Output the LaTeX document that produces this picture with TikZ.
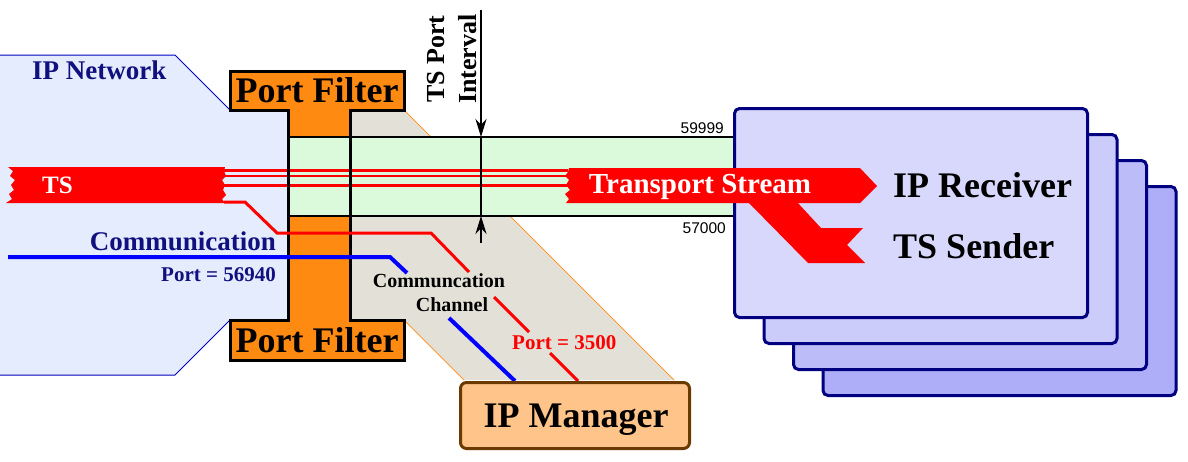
\documentclass[tikz,border=0pt]{standalone}
\usepackage{fontspec}
\setmainfont{Liberation Serif}
\newfontfamily\arialfont{Liberation Sans}
\usetikzlibrary{arrows.meta}
\definecolor{netfill}{HTML}{E5ECFD}
\definecolor{netline}{HTML}{0000C0}
\definecolor{navytxt}{HTML}{10107F}
\definecolor{pforange}{HTML}{FF8A12}
\definecolor{bandgreen}{HTML}{DBF9DB}
\definecolor{chgray}{HTML}{E3E1D7}
\definecolor{choutline}{HTML}{FF9A30}
\definecolor{mgrfill}{HTML}{FFC48A}
\definecolor{mgrline}{HTML}{6B3A00}
\definecolor{rxline}{HTML}{000080}
\definecolor{rxa}{HTML}{D8D8FC}
\definecolor{rxb}{HTML}{CCCCFA}
\definecolor{rxc}{HTML}{BCBCF8}
\definecolor{rxd}{HTML}{AEAEF8}
\definecolor{tsred}{HTML}{FF0000}
\definecolor{commblue}{HTML}{0000FF}
\tikzset{
  rxbox/.style={draw=rxline, line width=3pt, rounded corners=5pt, minimum width=353pt, minimum height=209pt, inner sep=0pt},
  bigtxt/.style={font=\bfseries\fontsize{36pt}{40pt}\selectfont, inner sep=0pt},
  midtxt/.style={font=\bfseries\fontsize{26pt}{30pt}\selectfont, inner sep=0pt},
  nettxtstyle/.style={font=\bfseries\fontsize{27pt}{30pt}\selectfont, inner sep=0pt, text=navytxt},
  smalltxt/.style={font=\bfseries\fontsize{21pt}{24pt}\selectfont, inner sep=0pt},
  chantxt/.style={font=\bfseries\fontsize{20pt}{22pt}\selectfont, inner sep=0pt},
  numtxt/.style={font=\arialfont\fontsize{15.5pt}{18pt}\selectfont, inner sep=0pt},
  redline/.style={draw=tsred, line width=3pt},
  blueline/.style={draw=commblue, line width=4pt},
  intervalarrow/.style={line width=2pt, -{Stealth[length=18pt,width=11pt]}},
  pfshape/.style={line width=3pt, line join=miter}
}
\begin{document}
\begin{tikzpicture}[x=1pt,y=-1pt]
\useasboundingbox (0,0) rectangle (1188,461);
% communication channel (gray band)
\fill[chgray] (350,110) -- (404,110) -- (674,380) -- (464,380) -- (404,320) -- (350,320) -- cycle;
\draw[choutline, line width=1pt] (404,110) -- (674,380);
\draw[choutline, line width=1pt] (404,320) -- (464,380);
% IP network area
\fill[netfill] (0,55) -- (175,55) -- (230,110) -- (290,110) -- (290,320) -- (230,320) -- (175,375) -- (0,375) -- cycle;
\draw[netline, line width=1pt] (0,55) -- (175,55) -- (230,110);
\draw[netline, line width=1pt] (0,375) -- (175,375) -- (230,320);
% port filter fill
\fill[pforange] (288,110)--(230,110)--(230,71)--(404,71)--(404,110)--(350,110)--(350,320)--(404,320)--(404,360)--(230,360)--(230,320)--(288,320)--cycle;
% TS port band
\fill[bandgreen] (288,137) rectangle (735,216);
\draw[line width=2pt] (288,137) -- (735,137);
\draw[line width=2pt] (288,216) -- (735,216);
% receivers stack
\node[rxbox, fill=rxd] (rx4) at (999.5,291) {};
\node[rxbox, fill=rxc] (rx3) at (970,265) {};
\node[rxbox, fill=rxb] (rx2) at (940.5,239) {};
\node[rxbox, fill=rxa] (rx1) at (911,213) {};
% TS band (left, torn)
\fill[tsred] (8,167)--(225,167)--(224,171)--(226,176)--(222,180)--(225,185)--(223,190)--(226,195)--(222,199)--(225,203)--(6,203)--(12,199)--(9,194)--(14,190)--(11,185)--(15,180)--(10,176)--(13,171)--cycle;
\draw[tsred, line width=2.6pt] (224,170.5) -- (568,170.5);
\draw[tsred, line width=2.6pt] (224,176) -- (568,176);
\draw[tsred, line width=2.6pt] (224,185.5) -- (568,185.5);
% Transport stream arrow
\fill[tsred] (569,168)--(860,168)--(877,186)--(860,203)--(566,203)--(569,199)--(565,194)--(570,190)--(566,185)--(569,180)--(565,176)--(568,172)--cycle;
\fill[tsred] (748,202)--(797,202)--(821,228)--(863,228)--(847,245)--(865,263)--(808,263)--cycle;
% outline of port filter
\draw[pfshape] (288,110)--(230,110)--(230,71)--(404,71)--(404,110)--(350,110)--(350,320)--(404,320)--(404,360)--(230,360)--(230,320)--(288,320)--cycle;
% red route to IP manager
\draw[redline] (224,202) -- (245,202) -- (277,233) -- (431,233) -- (469,272);
\draw[redline] (494,297) -- (529,332);
\draw[redline] (550,353) -- (578,381);
% blue communication route
\draw[blueline] (8,257) -- (390,257) -- (407,273);
\draw[blueline] (449,318) -- (515,381);
% TS port interval arrows
\coordinate (ivtop) at (481,10);
\coordinate (ivhi) at (481,137);
\coordinate (ivlo) at (481,216);
\coordinate (ivbot) at (481,243);
\draw[line width=2pt] (ivhi) -- (ivlo);
\draw[intervalarrow] (ivtop) -- (ivhi);
\draw[intervalarrow] (ivbot) -- (ivlo);
% IP manager
\node[draw=mgrline, fill=mgrfill, line width=3pt, rounded corners=6pt, minimum width=229pt, minimum height=66pt, inner sep=0pt] (mgr) at (575,415.5) {};
\node[bigtxt, anchor=base] (mgrtxt) at (576,427) {IP Manager};
% texts
\node[bigtxt, anchor=base] (pftop) at (317,102) {Port Filter};
\node[bigtxt, anchor=base] (pfbot) at (317,352) {Port Filter};
\node[bigtxt, anchor=base west] (rxtxt) at (893,197) {IP Receiver};
\node[bigtxt, anchor=base west] (sndtxt) at (893,258) {TS Sender};
\node[font=\bfseries\fontsize{29pt}{32pt}\selectfont, inner sep=0pt, text=white, anchor=base] (tstxt) at (700,193) {Transport Stream};
\node[font=\bfseries\fontsize{25pt}{30pt}\selectfont, inner sep=0pt, text=white, anchor=base west] (tsleft) at (42,193) {TS};
\node[nettxtstyle, anchor=base west] (nettxt) at (32,79) {IP Network};
\node[nettxtstyle, anchor=base east] (commtxt) at (276,250) {Communication};
\node[smalltxt, text=navytxt, anchor=base east] (porta) at (276,281) {Port = 56940};
\node[chantxt, anchor=base] (chtxta) at (439,287) {Communcation};
\node[chantxt, anchor=base] (chtxtb) at (452,311) {Channel};
\node[smalltxt, text=tsred, anchor=base west] (portb) at (512,349) {Port = 3500};
\node[numtxt, anchor=base east] (hi) at (724,133) {59999};
\node[numtxt, anchor=base east] (lo) at (726,233) {57000};
\node[midtxt, rotate=90, anchor=base west] (ivta) at (444,103) {TS Port};
\node[midtxt, rotate=90, anchor=base west] (ivtb) at (476,104) {Interval};
\end{tikzpicture}
\end{document}
